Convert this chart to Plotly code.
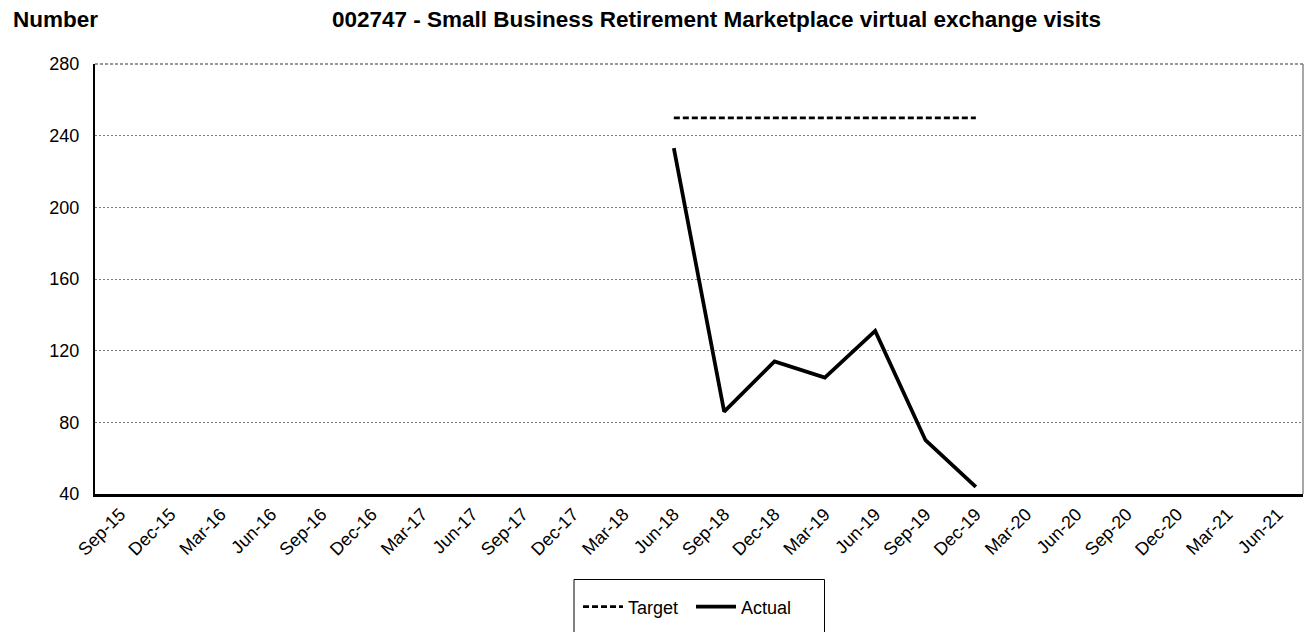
import plotly.graph_objects as go

# Quarter-end periods on the category axis
quarters = [
    "Sep-15", "Dec-15", "Mar-16", "Jun-16", "Sep-16", "Dec-16",
    "Mar-17", "Jun-17", "Sep-17", "Dec-17", "Mar-18", "Jun-18",
    "Sep-18", "Dec-18", "Mar-19", "Jun-19", "Sep-19", "Dec-19",
    "Mar-20", "Jun-20", "Sep-20", "Dec-20", "Mar-21", "Jun-21",
]

# Target level, reported from Jun-18 through Dec-19
target = [None] * 11 + [250, 250, 250, 250, 250, 250, 250] + [None] * 6

# Actual visits per quarter
actual = [None] * 11 + [233, 86, 114, 105, 131, 70, 44] + [None] * 6

y_ticks = [40, 80, 120, 160, 200, 240, 280]

W, H = 1309, 632
M_L, M_R, M_T, M_B = 95, 6, 64, 138
PW, PH = W - M_L - M_R, H - M_T - M_B


def px_x(x):
    return (x - M_L) / PW


def px_y(y):
    return (H - M_B - y) / PH


FONT = "Liberation Sans, Arial, sans-serif"

fig = go.Figure()
fig.add_trace(go.Scatter(
    x=quarters, y=target, name="Target", mode="lines",
    line=dict(color="black", width=2.75, dash="6px,3px"),
    connectgaps=False,
))
fig.add_trace(go.Scatter(
    x=quarters, y=actual, name="Actual", mode="lines",
    line=dict(color="black", width=3.75),
    connectgaps=False,
))

fig.update_layout(
    width=W, height=H,
    margin=dict(l=M_L, r=M_R, t=M_T, b=M_B),
    paper_bgcolor="white", plot_bgcolor="white",
    font=dict(family=FONT, size=18, color="black"),
    showlegend=True,
    legend=dict(
        orientation="h", x=px_x(578), xanchor="left",
        y=px_y(607), yanchor="middle",
        bgcolor="rgba(0,0,0,0)", borderwidth=0,
        font=dict(family=FONT, size=18, color="black"),
        itemwidth=40, tracegroupgap=0,
        entrywidth=58, entrywidthmode="pixels",
    ),
    xaxis=dict(
        type="category", categoryorder="array", categoryarray=quarters,
        range=[-0.5, len(quarters) - 0.5],
        showgrid=False, showline=True, linecolor="black", linewidth=2.5,
        ticks="", tickangle=-45, tickfont=dict(family=FONT, size=18),
        zeroline=False, fixedrange=True,
    ),
    yaxis=dict(
        range=[40, 280], tickvals=y_ticks,
        showgrid=True, gridcolor="#7a7a7a", gridwidth=1, griddash="2px,2px",
        showline=True, linecolor="black", linewidth=2,
        ticks="", ticklabelstandoff=10, tickfont=dict(family=FONT, size=18),
        zeroline=False, fixedrange=True,
    ),
    shapes=[
        # right border of the plotting area
        dict(type="line", xref="paper", yref="paper", x0=1, x1=1, y0=0, y1=1,
             line=dict(color="#8a8a8a", width=1.5)),
        # top border drawn as a dotted gridline at 280
        dict(type="line", xref="paper", yref="paper", x0=0, x1=1, y0=1, y1=1,
             line=dict(color="#7a7a7a", width=1.5, dash="3px,2px")),
        # legend frame
        dict(type="rect", xref="paper", yref="paper",
             x0=px_x(574), x1=px_x(824.5), y0=px_y(579.5), y1=px_y(645),
             line=dict(color="black", width=1), fillcolor="rgba(0,0,0,0)"),
    ],
    annotations=[
        dict(text="<b>Number</b>", xref="paper", yref="paper",
             x=px_x(11), y=px_y(19), xanchor="left", yanchor="middle",
             showarrow=False, font=dict(family=FONT, size=22.5, color="black")),
        dict(text="<b>002747 - Small Business Retirement Marketplace virtual exchange visits</b>",
             xref="paper", yref="paper",
             x=px_x(716), y=px_y(19), xanchor="center", yanchor="middle",
             showarrow=False, font=dict(family=FONT, size=22.5, color="black")),
    ],
)

fig.write_html("out.html")
